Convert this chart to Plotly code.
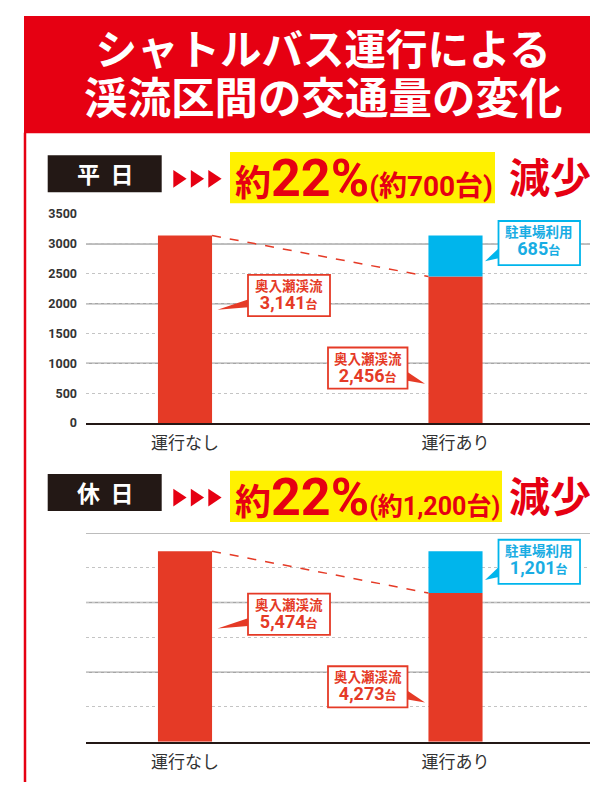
import plotly.graph_objects as go

# page body has an 8px default margin: draw on a figure that starts at (8, 8)
PAGE_W, PAGE_H = 598, 797
OFF = 8
W, H = PAGE_W - OFF, PAGE_H - 2 * OFF

# ---------------- data ----------------
categories = ["運行なし", "運行あり"]
cat_pos = [0, 1]

weekday_oirase = [3141, 2456]
weekday_parking = [685]
holiday_oirase = [5474, 4273]
holiday_parking = [1201]

weekday_ticks = [0, 500, 1000, 1500, 2000, 2500, 3000, 3500]
weekday_solid = [1000, 2000, 3000]
holiday_ticks = [0, 1000, 2000, 3000, 4000, 5000, 6000]
holiday_solid = [2000, 4000, 6000]

title_lines = ["シャトルバス運行による", "渓流区間の交通量の変化"]
panel_labels = ["平  日", "休  日"]
headline_big = ["22%", "22%"]
headline_small = ["(約700台)", "(約1,200台)"]
oirase_name = "奥入瀬渓流"
parking_name = "駐車場利用"
unit = "台"

# ---------------- styles ----------------
RED_HDR = "#e60012"
RED_BAR = "#e53a26"
BLUE = "#00b5ec"
BLUE_TXT = "#19ade3"
YELLOW = "#fff100"
BLACK_BOX = "#231815"
CJK = "Noto Sans CJK JP"
NUM = "Roboto, Noto Sans CJK JP"
BAR_W = 0.2


def px(x):
    return (x - OFF) / W


def py(y):
    return 1 - (y - OFF) / H


fig = go.Figure()

panels = [
    dict(off=0, oir=weekday_oirase, park=weekday_parking, ticks=weekday_ticks,
         solid=weekday_solid, rng=[0, 3500], xa="x", ya="y"),
    dict(off=325, oir=holiday_oirase, park=holiday_parking, ticks=holiday_ticks,
         solid=holiday_solid, rng=[0, 6000], xa="x2", ya="y2"),
]

shapes = []
annotations = []

# header
shapes.append(dict(type="rect", xref="paper", yref="paper", x0=px(24), x1=1.0,
                   y0=py(127.5), y1=1.0, fillcolor=RED_HDR, line=dict(width=0), layer="below"))
shapes.append(dict(type="line", xref="paper", yref="paper", x0=px(25), x1=px(25),
                   y0=py(127), y1=0, line=dict(color=RED_HDR, width=2.5)))
title_sizes = [41.5, 43.5]
title_text = "<br>".join(f'<span style="font-size:{s}px">{t}</span>'
                         for t, s in zip(title_lines, title_sizes))
annotations.append(dict(text=title_text, xref="paper", yref="paper", x=px(323), y=py(65),
                        xanchor="center", yanchor="middle", showarrow=False, align="center",
                        font=dict(family=CJK, size=37.7, color="white", weight="bold")))

for k, p in enumerate(panels):
    o = p["off"]
    xa, ya = p["xa"], p["ya"]
    # bars
    fig.add_trace(go.Bar(x=cat_pos, y=p["oir"], width=BAR_W, marker=dict(color=RED_BAR, line=dict(width=0)),
                         xaxis=xa, yaxis=ya, showlegend=False, hoverinfo="skip"))
    fig.add_trace(go.Bar(x=[cat_pos[1]], y=p["park"], base=[p["oir"][1]], width=BAR_W,
                         marker=dict(color=BLUE, line=dict(width=0)),
                         xaxis=xa, yaxis=ya, showlegend=False, hoverinfo="skip"))
    # dashed connector
    fig.add_trace(go.Scatter(x=[cat_pos[0] + BAR_W / 2, cat_pos[1] - BAR_W / 2], y=p["oir"],
                             mode="lines", line=dict(color=RED_BAR, width=1.5, dash="dash"),
                             xaxis=xa, yaxis=ya, showlegend=False, hoverinfo="skip"))
    # solid gridlines
    for v in p["solid"]:
        shapes.append(dict(type="line", xref=f"{xa} domain", yref=ya, x0=0, x1=1, y0=v, y1=v,
                           line=dict(color="#a6a6a6", width=1.5), layer="below"))

    # label box
    shapes.append(dict(type="rect", xref="paper", yref="paper", x0=px(47.7), x1=px(161.7),
                       y0=py(187.7 + o), y1=py(150 + o), fillcolor=BLACK_BOX, line=dict(width=0)))
    annotations.append(dict(text=panel_labels[k], xref="paper", yref="paper", x=px(104.5), y=py(168 + o),
                            xanchor="center", yanchor="middle", showarrow=False,
                            font=dict(family=CJK, size=23, color="white", weight="bold")))
    # arrows
    for j in range(3):
        x0 = 173.3 + j * 17.5
        yc = 174 + o
        shapes.append(dict(type="path", xref="paper", yref="paper",
                           path=f"M {px(x0)} {py(yc - 9)} L {px(x0 + 13.3)} {py(yc)} L {px(x0)} {py(yc + 9)} Z",
                           fillcolor=RED_HDR, line=dict(width=0)))
    # yellow box
    yr = [495, 502][k]
    shapes.append(dict(type="rect", xref="paper", yref="paper", x0=px(230), x1=px(yr),
                       y0=py(199 + o), y1=py(146.7 + o), fillcolor=YELLOW, line=dict(width=0)))
    small = [28, 25][k]
    headline = (f'<span style="font-size:36px">約</span>'
                f'<span style="font-size:52px">{headline_big[k]}</span>'
                f'<span style="font-size:{small}px">{headline_small[k]}</span>')
    annotations.append(dict(text=headline, xref="paper", yref="paper", x=px(233), y=py(174 + o),
                            xanchor="left", yanchor="middle", showarrow=False,
                            font=dict(family=NUM, size=28, color=RED_HDR, weight="bold")))
    annotations.append(dict(text="減少", xref="paper", yref="paper", x=px(507), y=py(170.5 + o),
                            xanchor="left", yanchor="middle", showarrow=False,
                            font=dict(family=CJK, size=41, color=RED_HDR, weight="bold")))

    # callouts: (box x0,x1,y0,y1, wedge pts, line colour, text colour, name, value)
    callouts = [
        ((248, 330, 272, 314), [(217.5, 307.5), (248, 297), (248, 305)], RED_BAR, RED_BAR, oirase_name, p["oir"][0]),
        ((328, 407.5, 346, 388), [(407.5, 371), (425, 383), (407.5, 380)], RED_BAR, RED_BAR, oirase_name, p["oir"][1]),
        ((498.5, 580, 217, 262), [(485, 258), (498.5, 245), (498.5, 255)], BLUE, BLUE_TXT, parking_name, p["park"][0]),
    ]
    for (bx0, bx1, by0, by1), pts, lc, tc, name, val in callouts:
        path = "M " + " L ".join(f"{px(a)} {py(b + o)}" for a, b in pts) + " Z"
        shapes.append(dict(type="path", xref="paper", yref="paper", path=path,
                           fillcolor=lc, line=dict(width=0)))
        shapes.append(dict(type="rect", xref="paper", yref="paper", x0=px(bx0), x1=px(bx1),
                           y0=py(by1 + o), y1=py(by0 + o), fillcolor="white",
                           line=dict(color=lc, width=1.8)))
        cx = (bx0 + bx1) / 2
        txt = (f'<span style="font-family:{CJK};font-size:13.5px">{name}</span><br>'
               f'<span style="font-size:18px">{val:,}</span>'
               f'<span style="font-family:{CJK};font-size:12px">{unit}</span>')
        annotations.append(dict(text=txt, xref="paper", yref="paper", x=px(cx), y=py(by0 + 19.5 + o),
                                xanchor="center", yanchor="middle", showarrow=False, align="center",
                                font=dict(family=NUM, size=14, color=tc, weight="bold")))

# axes
xcommon = dict(range=[-0.366, 1.512], tickvals=cat_pos, ticktext=categories, showgrid=False,
               zeroline=False, showline=True, linecolor="#231815", linewidth=2, ticks="",
               tickfont=dict(family=CJK, size=17, color="#333333"), fixedrange=True,
               domain=[px(86), px(594)], ticklabelstandoff=4)
ycommon = dict(showgrid=True, gridcolor="#c4c4c4", gridwidth=1, griddash="dot", zeroline=False,
               showline=False, ticks="", fixedrange=True)

fig.update_layout(
    width=W, height=H,
    margin=dict(l=0, r=0, t=0, b=0),
    paper_bgcolor="white", plot_bgcolor="rgba(0,0,0,0)",
    barmode="overlay",
    showlegend=False,
    xaxis=dict(**xcommon, anchor="y"),
    yaxis=dict(**ycommon, domain=[py(423), py(210)], range=panels[0]["rng"], tickvals=weekday_ticks,
               tickfont=dict(family="Roboto", size=12.5, color="#333333", weight="bold"),
               ticklabelstandoff=8, anchor="x"),
    xaxis2=dict(**xcommon, anchor="y2"),
    yaxis2=dict(**ycommon, domain=[py(748), py(535)], range=panels[1]["rng"], tickvals=holiday_ticks,
                showticklabels=False, anchor="x2"),
    shapes=shapes,
    annotations=annotations,
)

fig.write_html("out.html")
